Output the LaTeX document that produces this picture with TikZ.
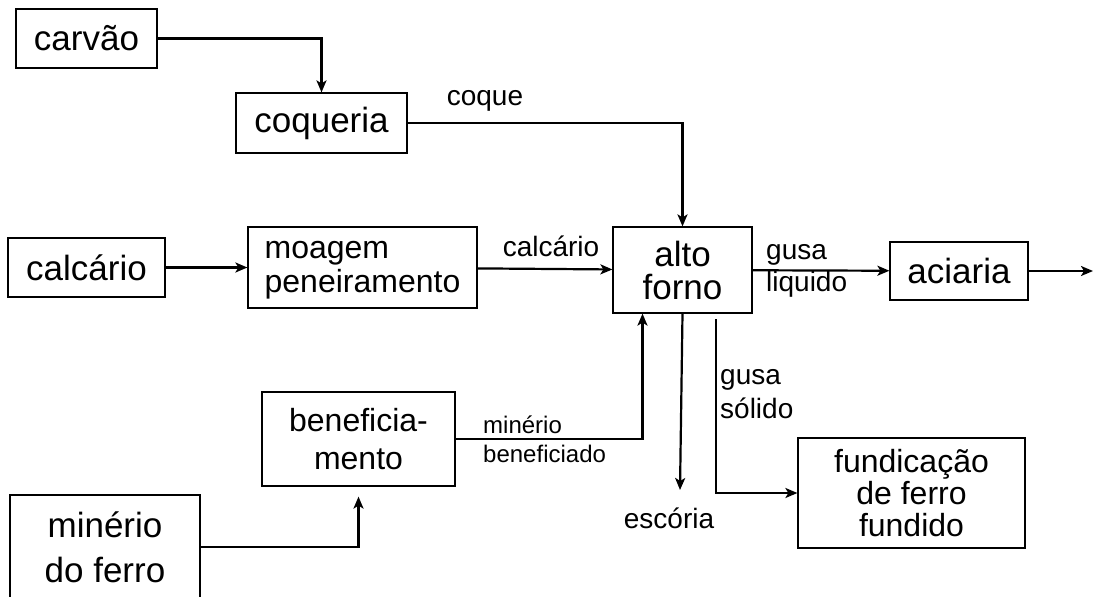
\documentclass[tikz,border=0pt]{standalone}
\usepackage{fontspec}
\setmainfont{Liberation Sans}
\usetikzlibrary{positioning, arrows.meta}

\begin{document}
\begin{tikzpicture}[x=1pt, y=-1pt,
    box/.style={draw, line width=1.2pt, inner sep=0pt, align=center},
    lbl/.style={font=\fontsize{28}{32}\selectfont, inner sep=0pt},
    flow/.style={line width=2.2pt, -{Stealth[length=12pt, width=10pt, inset=3pt]}}]
    \useasboundingbox (0,0) rectangle (1095,597);

    % Raw materials
    \node[box, minimum width=141pt, minimum height=59pt, font=\fontsize{35}{33}\selectfont] (carvao) at (86.5,38.5) {carvão};
    \node[box, minimum width=157pt, minimum height=59pt, font=\fontsize{35}{33}\selectfont] (calcario) at (86.5,267.5) {calcário};
    \node[box, minimum width=190pt, minimum height=104pt, font=\fontsize{35}{45}\selectfont] (minerio) at (105,547) {minério\\do ferro};

    % Preparation
    \node[box, minimum width=171pt, minimum height=60pt, font=\fontsize{35}{33}\selectfont] (coqueria) at (321.5,123) {coqueria};
    \node[box, align=left, minimum width=229pt, minimum height=81pt, font=\fontsize{32}{33}\selectfont] (moagem) at (362.5,267.5) {\strut moagem\\peneiramento};
    \node[box, minimum width=193pt, minimum height=94pt, font=\fontsize{32}{38}\selectfont] (benef) at (358.5,439) {beneficia-\\mento};

    % Furnace and products
    \node[box, minimum width=139pt, minimum height=86pt, font=\fontsize{35}{33}\selectfont] (alto) at (682.5,270) {alto\\forno};
    \node[box, minimum width=138pt, minimum height=58pt, font=\fontsize{35}{33}\selectfont] (aciaria) at (959,271) {aciaria};
    \node[box, minimum width=227pt, minimum height=110pt, font=\fontsize{32}{32}\selectfont] (fund) at (911.5,493) {fundicação\\de ferro\\fundido};

    % Free ends
    \coordinate (saida) at (1093,271);
    \coordinate (escpt) at (680,490);
    \coordinate (gsini) at (716,319);

    % Flows
    \draw[flow] (carvao) -| (coqueria);
    \draw[flow] (coqueria) -| (alto);
    \draw[flow] (calcario) -- (moagem);
    \draw[flow] (moagem) -- (alto);
    \draw[flow] (alto) -- (aciaria);
    \draw[flow] (aciaria) -- (saida);
    \draw[flow] (benef.east) -| ([xshift=-40pt]alto.south);
    \draw[flow, shorten >=10pt] (minerio.east |- 0,547) -| (benef.south);
    \draw[flow] (alto.south) -- (escpt);
    \draw[flow] (gsini) |- (fund.west);

    % Labels
    \node[lbl] (coque) at (485,101) {coque};
    \node[lbl] (calclbl) at (551,246) {calcário};
    \node[lbl, anchor=west, align=left] (gusaliq) at (766,271) {gusa\\liquido};
    \node[lbl, anchor=west, align=left, font=\fontsize{28}{34}\selectfont] (gusasol) at (720,394) {gusa\\sólido};
    \node[lbl, anchor=west, align=left, font=\fontsize{24}{29}\selectfont] (minben) at (483,439) {minério\\beneficiado};
    \node[lbl] (escoria) at (669,518) {escória};
\end{tikzpicture}
\end{document}
